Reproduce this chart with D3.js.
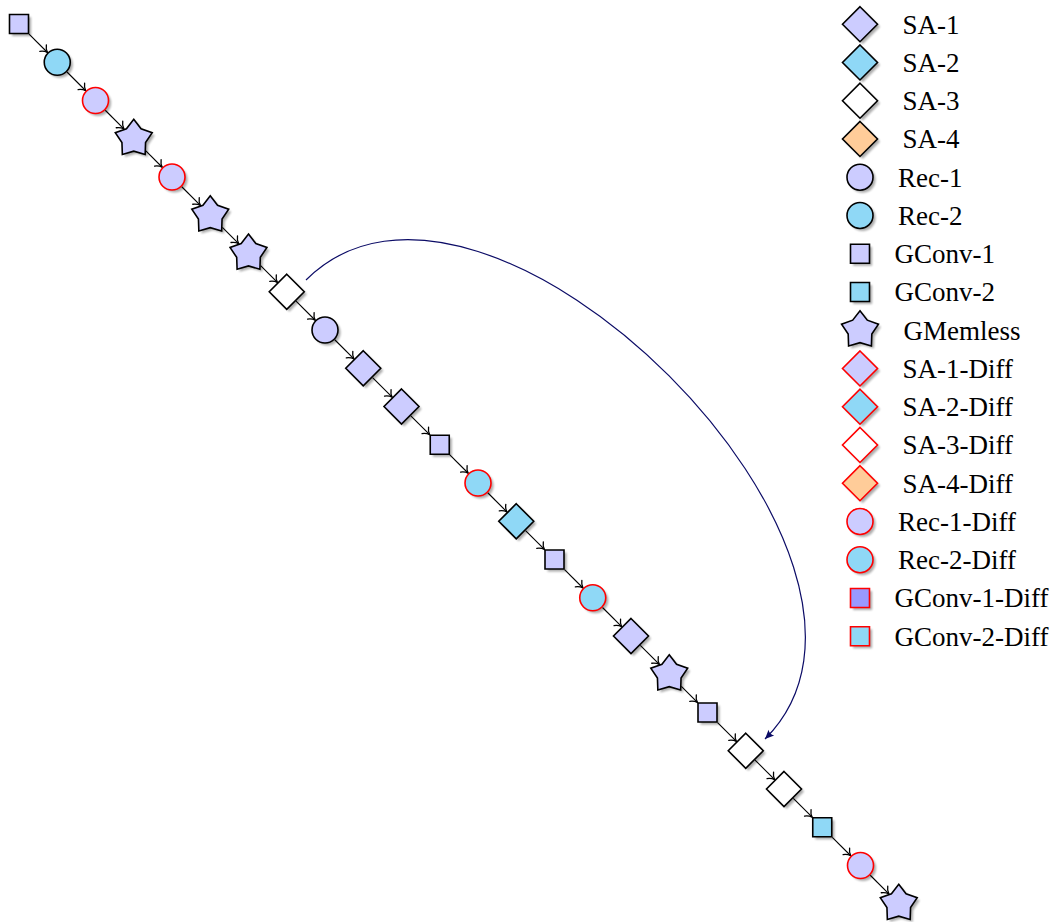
<!DOCTYPE html>
<html>
<head>
<meta charset="utf-8">
<script src="https://cdn.jsdelivr.net/npm/d3@7"></script>
<style>
  html, body { margin: 0; padding: 0; background: #fff; }
  svg { display: block; }
</style>
</head>
<body>
<script>
// ---------------- data ----------------
const nodeTypes = [
  "GConv-1", "Rec-2", "Rec-1-Diff", "GMemless", "Rec-1-Diff", "GMemless",
  "GMemless", "SA-3", "Rec-1", "SA-1", "SA-1", "GConv-1", "Rec-2-Diff",
  "SA-2", "GConv-1", "Rec-2-Diff", "SA-1", "GMemless", "GConv-1", "SA-3",
  "SA-3", "GConv-2", "Rec-1-Diff", "GMemless"
];
const skipFrom = [7];
const skipTo = [19];
const legendLabels = [
  "SA-1", "SA-2", "SA-3", "SA-4", "Rec-1", "Rec-2", "GConv-1", "GConv-2",
  "GMemless", "SA-1-Diff", "SA-2-Diff", "SA-3-Diff", "SA-4-Diff",
  "Rec-1-Diff", "Rec-2-Diff", "GConv-1-Diff", "GConv-2-Diff"
];

// ---------------- styles ----------------
const W = 1062, H = 922;
const LAV = "#ccccff", CYAN = "#8fd8f6", ORANGE = "#ffcc99", DLAV = "#9999ff";
const fills = {
  "SA-1": LAV, "SA-2": CYAN, "SA-3": "#ffffff", "SA-4": ORANGE,
  "Rec-1": LAV, "Rec-2": CYAN, "GConv-1": LAV, "GConv-2": CYAN, "GMemless": LAV
};
const SQ = 9.5, CR = 13, DI = 17.5, SR = 19.4, SRI = SR * 0.64;

function styleOf(label) {
  const diff = label.endsWith("-Diff");
  const base = label.replace("-Diff", "");
  let shape = "circle";
  if (base.startsWith("SA")) shape = "diamond";
  else if (base.startsWith("GConv")) shape = "square";
  else if (base.startsWith("GMemless")) shape = "star";
  let fill = fills[base];
  if (diff && base === "GConv-1") fill = DLAV;
  return { shape, fill, stroke: diff ? "#ff0000" : "#000000" };
}

function polyPoints(shape) {
  if (shape === "square") return [[-SQ, -SQ], [SQ, -SQ], [SQ, SQ], [-SQ, SQ]];
  if (shape === "diamond") return [[0, -DI], [DI, 0], [0, DI], [-DI, 0]];
  if (shape === "star") {
    const pts = [];
    for (let k = 0; k < 10; k++) {
      const a = -Math.PI / 2 + k * Math.PI / 5;
      const r = k % 2 === 0 ? SR : SRI;
      pts.push([r * Math.cos(a), r * Math.sin(a)]);
    }
    return pts;
  }
  return null;
}

function boundaryDist(shape, ux, uy) {
  if (shape === "circle") return CR + 0.8;
  const pts = polyPoints(shape);
  let best = Infinity;
  for (let k = 0; k < pts.length; k++) {
    const [ax, ay] = pts[k], [bx, by] = pts[(k + 1) % pts.length];
    const ex = bx - ax, ey = by - ay;
    const den = ux * ey - uy * ex;
    if (Math.abs(den) < 1e-9) continue;
    const t = (ax * ey - ay * ex) / den;
    const s = (ax * uy - ay * ux) / den;
    if (t > 0 && s >= -1e-9 && s <= 1 + 1e-9) best = Math.min(best, t);
  }
  return best + 0.8;
}

const svg = d3.select("body").append("svg")
  .attr("width", W).attr("height", H)
  .attr("font-family", "'Liberation Serif', 'Times New Roman', serif");
svg.append("rect").attr("width", W).attr("height", H).attr("fill", "#fff");

const defs = svg.append("defs");
defs.append("filter").attr("id", "blur")
  .attr("x", "-30%").attr("y", "-30%").attr("width", "160%").attr("height", "160%")
  .append("feGaussianBlur").attr("stdDeviation", 0.8);
defs.append("marker").attr("id", "tip")
  .attr("viewBox", "-8 -6 9 12").attr("refX", 0).attr("refY", 0)
  .attr("markerWidth", 9).attr("markerHeight", 12)
  .attr("markerUnits", "userSpaceOnUse").attr("orient", "auto")
  .append("path")
  .attr("d", "M-6.2,-4.6 C-4,-1.6 -1.4,-0.45 0,0 C-1.4,0.45 -4,1.6 -6.2,4.6")
  .attr("fill", "none").attr("stroke", "#000").attr("stroke-width", 1.3)
  .attr("stroke-linecap", "round");
defs.append("marker").attr("id", "navytip")
  .attr("viewBox", "-10 -5 11 10").attr("refX", 0).attr("refY", 0)
  .attr("markerWidth", 11).attr("markerHeight", 10)
  .attr("markerUnits", "userSpaceOnUse").attr("orient", "auto")
  .append("path")
  .attr("d", "M0,0 L-9,-4 Q-6.3,0 -9,4 Z")
  .attr("fill", "#0b0b66");

function drawShape(g, label) {
  const st = styleOf(label);
  const draw = (sel, isShadow) => {
    let el;
    if (st.shape === "circle") el = sel.append("circle").attr("r", CR);
    else el = sel.append("polygon").attr("points", polyPoints(st.shape).map(p => p.join(",")).join(" "));
    if (isShadow) {
      el.attr("fill", "#000").attr("opacity", 0.32).attr("filter", "url(#blur)")
        .attr("transform", "translate(2.6,2.6)");
    } else {
      el.attr("fill", st.fill).attr("stroke", st.stroke).attr("stroke-width", 1.6)
        .attr("stroke-linejoin", "miter");
    }
  };
  draw(g, true);
  draw(g, false);
}

// ---------------- chain ----------------
const n = nodeTypes.length;
const x = d3.scaleLinear().domain([0, n - 1]).range([19, 898.75]);
const y = d3.scaleLinear().domain([0, n - 1]).range([24, 903.75]);

const edges = svg.append("g");
for (let i = 0; i < n - 1; i++) {
  const x0 = x(i), y0 = y(i), x1 = x(i + 1), y1 = y(i + 1);
  const len = Math.hypot(x1 - x0, y1 - y0);
  const ux = (x1 - x0) / len, uy = (y1 - y0) / len;
  const b0 = boundaryDist(styleOf(nodeTypes[i]).shape, ux, uy);
  const b1 = boundaryDist(styleOf(nodeTypes[i + 1]).shape, -ux, -uy);
  edges.append("line")
    .attr("x1", x0 + ux * b0).attr("y1", y0 + uy * b0)
    .attr("x2", x1 - ux * b1).attr("y2", y1 - uy * b1)
    .attr("stroke", "#000").attr("stroke-width", 1.1)
    .attr("marker-end", "url(#tip)");
}

// skip connection (bent arc)
skipFrom.forEach((f, k) => {
  const t = skipTo[k];
  const sx = x(f) + 19.25, sy = y(f) - 11.75;
  const ex = x(t) + 19.25, ey = y(t) - 11.75;
  const L = 252, c = Math.SQRT1_2;
  const p = d3.path();
  p.moveTo(sx, sy);
  p.bezierCurveTo(sx + L * c, sy - L * c, ex + L * c, ey - L * c, ex, ey);
  svg.append("path").attr("d", p.toString())
    .attr("fill", "none").attr("stroke", "#0b0b66").attr("stroke-width", 1.2)
    .attr("marker-end", "url(#navytip)");
});

const nodes = svg.append("g");
nodeTypes.forEach((lab, i) => {
  const g = nodes.append("g").attr("transform", `translate(${x(i)},${y(i)})`);
  drawShape(g, lab);
});

// ---------------- legend ----------------
const ly = d3.scaleLinear().domain([0, legendLabels.length - 1]).range([24.2, 636.2]);
const lx = 860;
const rightExt = { diamond: DI, circle: CR, square: SQ, star: SR * Math.sin(2 * Math.PI / 5) };
const legend = svg.append("g");
legendLabels.forEach((lab, k) => {
  const g = legend.append("g").attr("transform", `translate(${lx},${ly(k)})`);
  drawShape(g, lab);
  const st = styleOf(lab);
  legend.append("text")
    .attr("x", lx + rightExt[st.shape] + 25)
    .attr("y", ly(k) + 9.5)
    .attr("font-size", 27)
    .attr("fill", "#000")
    .text(lab);
});
</script>
</body>
</html>
